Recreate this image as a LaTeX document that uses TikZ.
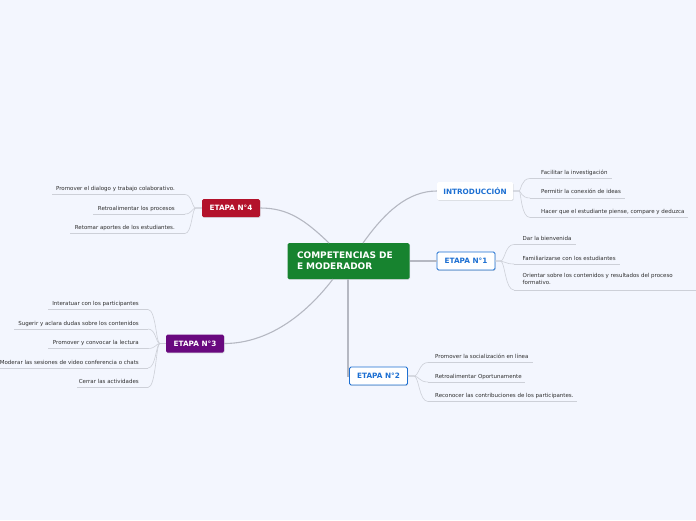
\documentclass[tikz,border=0pt]{standalone}
\usepackage{fontspec}
\setmainfont{DejaVu Sans}
\usetikzlibrary{shadows}
\definecolor{bg}{HTML}{F3F6FE}
\definecolor{cgreen}{HTML}{17832F}
\definecolor{cred}{HTML}{B3122B}
\definecolor{cpurple}{HTML}{69097F}
\definecolor{cblue}{HTML}{1C6FD2}
\definecolor{mainline}{HTML}{B5B8C2}
\definecolor{subline}{HTML}{CDD0D8}
\definecolor{txt}{HTML}{2E2E2E}
\tikzset{
  x=1pt, y=-1pt,
  shd/.style={drop shadow={opacity=0.22, shadow xshift=0.6pt, shadow yshift=-0.9pt}},
  topic/.style={rectangle, rounded corners=1.5pt, minimum width=58pt, minimum height=18pt, inner sep=0pt,
    font=\fontsize{7.3}{8}\selectfont\bfseries, shd},
  bluebox/.style={topic, draw=cblue, line width=0.9pt, fill=white, text=cblue},
  leafl/.style={font=\fontsize{5.5}{7}\selectfont, text=txt, inner sep=0pt, anchor=base west, align=left},
  leafr/.style={font=\fontsize{5.5}{7}\selectfont, text=txt, inner sep=0pt, anchor=base east, align=right},
  mainconn/.style={draw=mainline, line width=1.1pt},
  subconn/.style={draw=subline, line width=0.6pt},
}
\begin{document}
\begin{tikzpicture}
\fill[bg] (0,0) rectangle (696,520);
\useasboundingbox (0,0) rectangle (696,520);

% central
\node[rectangle, rounded corners=1.5pt, fill=cgreen, minimum width=121pt, minimum height=36pt,
  text width=103pt, inner xsep=9.5pt, align=left, text=white, font=\fontsize{9}{11}\selectfont\bfseries, shd]
  (c) at (348.5,261) {COMPETENCIAS DE\\E MODERADOR};

% topics
\node[topic, fill=white, minimum width=76pt, text=cblue] (intro) at (475,191) {INTRODUCCIÓN};
\node[bluebox] (e1) at (466,261) {ETAPA N°1};
\node[bluebox] (e2) at (378.5,376) {ETAPA N°2};
\node[topic, fill=cred, text=white] (e4) at (231,208) {ETAPA N°4};
\node[topic, fill=cpurple, text=white] (e3) at (195,343.5) {ETAPA N°3};

% main connectors
\coordinate (cI) at (363,243);
\coordinate (c4) at (329,243);
\coordinate (c3) at (333,279);
\coordinate (c2) at (348,279);
\draw[mainconn] (cI) .. controls (385,212) and (408,191) .. (intro.west);
\draw[mainconn] (c.east) -- (e1.west);
\draw[mainconn] (c2) |- (e2.west);
\draw[mainconn] (c4) .. controls (305,220) and (288,208) .. (e4.east);
\draw[mainconn] (c3) .. controls (300,322) and (262,343.5) .. (e3.east);

% INTRODUCCION leaves
\node[leafl] (i1) at (541,174) {Facilitar la investigación};
\node[leafl] (i2) at (541,193.5) {Permitir la conexión de ideas};
\node[leafl] (i3) at (541,213) {Hacer que el estudiante piense, compare y deduzca};
\coordinate (i1a) at (530,178.5); \coordinate (i1b) at (612,178.5);
\coordinate (i2a) at (530,198);   \coordinate (i2b) at (625,198);
\coordinate (i3a) at (530,217.5); \coordinate (i3b) at (688,217.5);
\foreach \a/\b in {i1a/i1b,i2a/i2b,i3a/i3b}{
  \draw[subconn] (intro.east) -- ++(6,0) .. controls (521,191) and (521,0|-\a) .. (\a);
  \draw[subconn] (\a) -- (\b);
}

% ETAPA 1 leaves
\node[leafl] (a1) at (522.5,240) {Dar la bienvenida};
\node[leafl] (a2) at (522.5,260) {Familiarizarse con los estudiantes};
\node[leafl, anchor=north west] (a3) at (522.5,273.3) {Orientar sobre los contenidos y resultados del proceso\\formativo.};
\coordinate (a1a) at (514,244.5); \coordinate (a1b) at (576,244.5);
\coordinate (a2a) at (514,264);   \coordinate (a2b) at (620,264);
\coordinate (a3a) at (514,290);   \coordinate (a3b) at (696,290);
\foreach \a/\b in {a1a/a1b,a2a/a2b,a3a/a3b}{
  \draw[subconn] (e1.east) -- ++(5,0) .. controls (505,261) and (505,0|-\a) .. (\a);
  \draw[subconn] (\a) -- (\b);
}

% ETAPA 2 leaves
\node[leafl] (b1) at (435,358.5) {Promover la socialización en línea};
\node[leafl] (b2) at (435,378) {Retroalimentar Oportunamente};
\node[leafl] (b3) at (435,397.5) {Reconocer las contribuciones de los participantes.};
\coordinate (b1a) at (428,362.5); \coordinate (b1b) at (533,362.5);
\coordinate (b2a) at (428,382);   \coordinate (b2b) at (525,382);
\coordinate (b3a) at (428,401.5); \coordinate (b3b) at (577,401.5);
\foreach \a/\b in {b1a/b1b,b2a/b2b,b3a/b3b}{
  \draw[subconn] (e2.east) -- ++(6,0) .. controls (419,376) and (419,0|-\a) .. (\a);
  \draw[subconn] (\a) -- (\b);
}

% ETAPA 4 leaves
\node[leafr] (d1) at (175,190.5) {Promover el dialogo y trabajo colaborativo.};
\node[leafr] (d2) at (175,210) {Retroalimentar los procesos};
\node[leafr] (d3) at (175,229.5) {Retomar aportes de los estudiantes.};
\coordinate (d1a) at (185,194.5); \coordinate (d1b) at (52,194.5);
\coordinate (d2a) at (185,214);   \coordinate (d2b) at (93,214);
\coordinate (d3a) at (185,233.5); \coordinate (d3b) at (70,233.5);
\foreach \a/\b in {d1a/d1b,d2a/d2b,d3a/d3b}{
  \draw[subconn] (e4.west) -- ++(-6,0) .. controls (192,208) and (192,0|-\a) .. (\a);
  \draw[subconn] (\a) -- (\b);
}

% ETAPA 3 leaves
\node[leafr] (f1) at (139,305.5) {Interatuar con  los participantes};
\node[leafr] (f2) at (139,325) {Sugerir y aclara dudas sobre los contenidos};
\node[leafr] (f3) at (139,344.5) {Promover y convocar la lectura};
\node[leafr] (f4) at (139,364) {Moderar las sesiones de video conferencia o chats};
\node[leafr] (f5) at (139,383.5) {Cerrar las actividades};
\coordinate (f1a) at (148,309.5); \coordinate (f1b) at (48,309.5);
\coordinate (f2a) at (148,329);   \coordinate (f2b) at (14,329);
\coordinate (f3a) at (148,348.5); \coordinate (f3b) at (48,348.5);
\coordinate (f4a) at (148,368);   \coordinate (f4b) at (0,368);
\coordinate (f5a) at (148,387.5); \coordinate (f5b) at (77,387.5);
\foreach \a/\b in {f1a/f1b,f2a/f2b,f3a/f3b,f4a/f4b,f5a/f5b}{
  \draw[subconn] (e3.west) -- ++(-6,0) .. controls (156,343.5) and (156,0|-\a) .. (\a);
  \draw[subconn] (\a) -- (\b);
}
\end{tikzpicture}
\end{document}
